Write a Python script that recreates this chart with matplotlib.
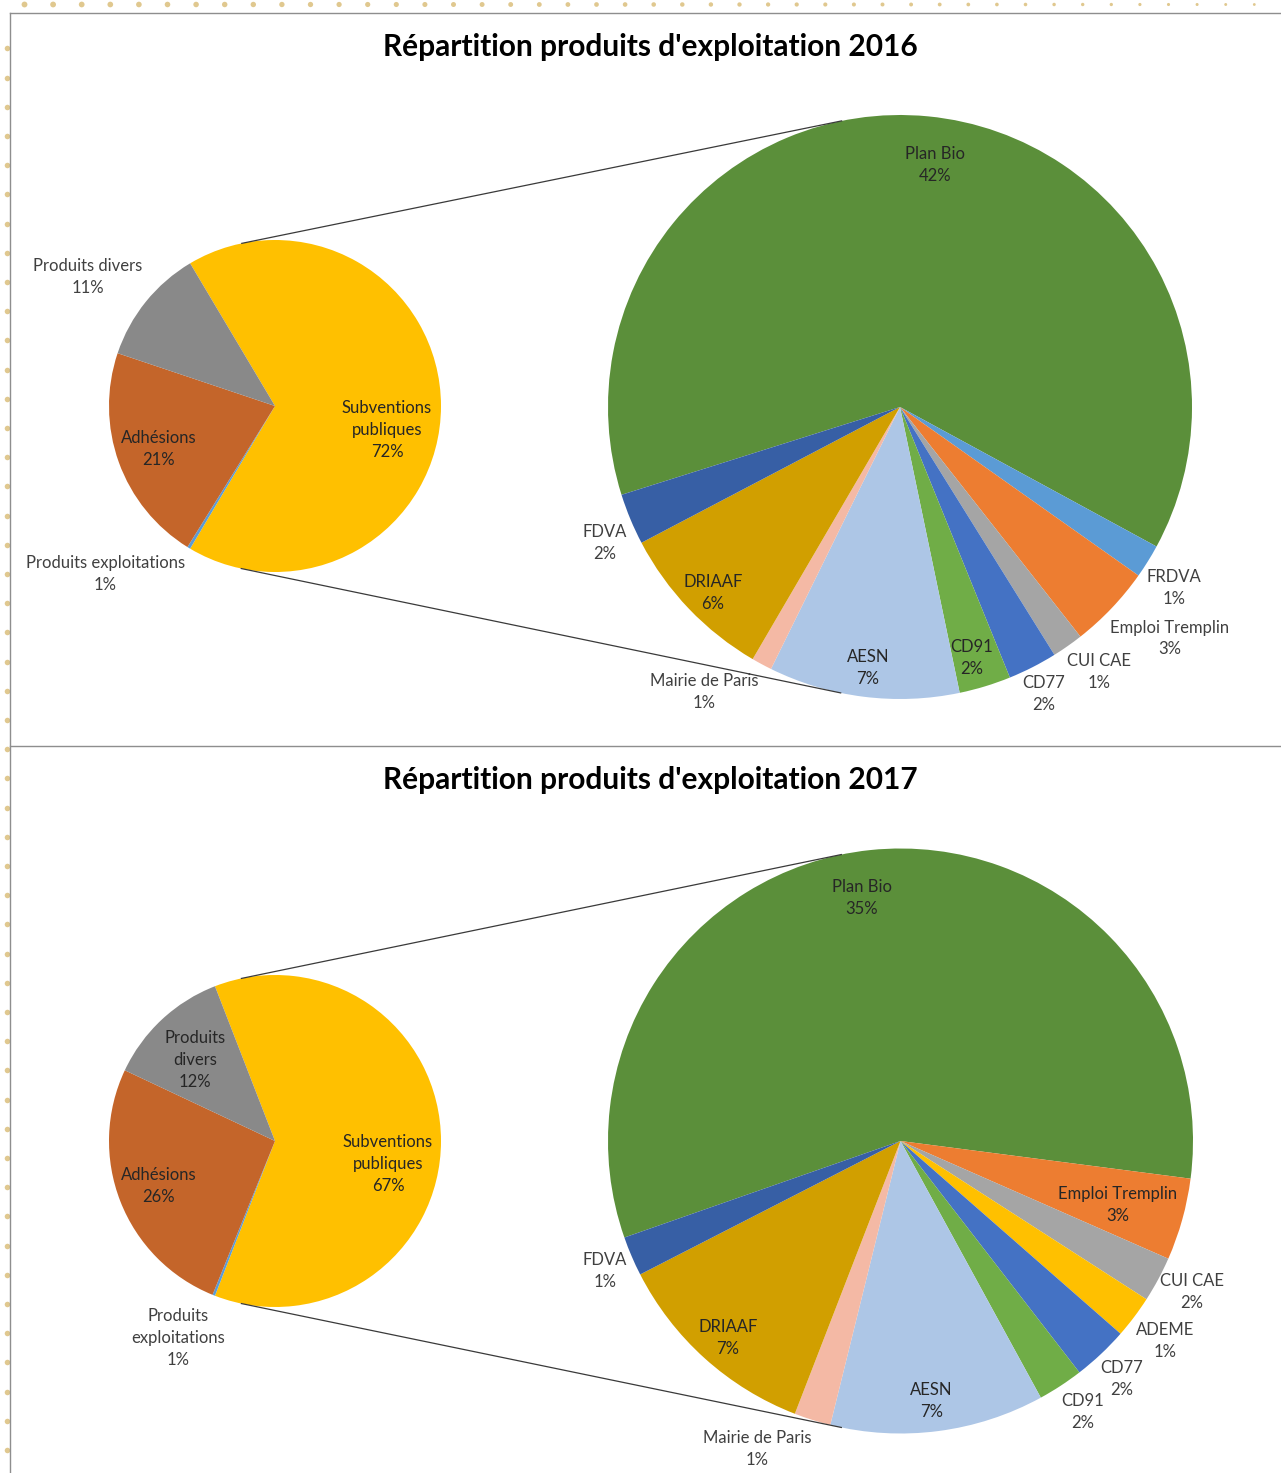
import numpy as np
import matplotlib
matplotlib.use("Agg")
import matplotlib.pyplot as plt

plt.rcParams['font.family'] = ['Lato', 'DejaVu Sans']

# ---------------- data ----------------
titles = ["Répartition produits d'exploitation 2016",
          "Répartition produits d'exploitation 2017"]

main_names = ["Subventions publiques", "Produits exploitations", "Adhésions", "Produits divers"]
main_colors = ["#FFC000", "#5B9BD5", "#C4652A", "#898989"]

# share of total drawn for the non-aggregated slices (percent)
main_other_2016 = [0.3, 21.3, 11.3]
main_other_2017 = [0.25, 25.85, 12.1]
# percentages displayed on the first pie
main_shown_2016 = [72, 1, 21, 11]
main_shown_2017 = [67, 1, 26, 12]

sec_names_2016 = ["Plan Bio", "FRDVA", "Emploi Tremplin", "CUI CAE", "CD77", "CD91",
                  "AESN", "Mairie de Paris", "DRIAAF", "FDVA"]
sec_values_2016 = [42.1, 1.25, 3.09, 1.16, 1.83, 1.92, 7.08, 0.76, 5.96, 1.90]

sec_names_2017 = ["Plan Bio", "Emploi Tremplin", "CUI CAE", "ADEME", "CD77", "CD91",
                  "AESN", "Mairie de Paris", "DRIAAF", "FDVA"]
sec_values_2017 = [35.45, 2.8, 1.55, 1.45, 1.9, 1.55, 7.3, 1.25, 7.15, 1.35]

sec_color_map = {
    "Plan Bio": "#5B8F3A", "FRDVA": "#5B9BD5", "Emploi Tremplin": "#ED7D31",
    "CUI CAE": "#A5A5A5", "ADEME": "#FFC000", "CD77": "#4472C4", "CD91": "#70AD47",
    "AESN": "#ADC6E6", "Mairie de Paris": "#F4B9A5", "DRIAAF": "#D19F00", "FDVA": "#375FA5",
}

# ---------------- layout ----------------
W, H = 1281, 1473
fig = plt.figure(figsize=(W / 100, H / 100), dpi=100)
ax = fig.add_axes([0, 0, 1, 1])

def Y(py):
    return H - py

# label placement: (radial factor, angle nudge in degrees) per slice name
main_lab_2016 = {"Subventions publiques": (0.69, -12), "Produits exploitations": (1.44, -14),
                 "Adhésions": (0.745, 0.4), "Produits divers": (1.37, 4.3)}
main_lab_2017 = {"Subventions publiques": (0.695, -11.5), "Produits exploitations": (1.323, -4.5),
                 "Adhésions": (0.75, -0.1), "Produits divers": (0.686, 1.6)}
sec_lab_2016 = {"Plan Bio": (0.837, -2.7), "FRDVA": (1.125, -1.5), "Emploi Tremplin": (1.217, 2.9),
                "CUI CAE": (1.135, 1.8), "CD77": (1.10, -0.45), "CD91": (0.894, -1.0),
                "AESN": (0.90, 0.2), "Mairie de Paris": (1.183, -6.2), "DRIAAF": (0.903, 1.1),
                "FDVA": (1.112, 2.15)}
sec_lab_2017 = {"Plan Bio": (0.841, 3.1), "Emploi Tremplin": (0.775, -0.75), "CUI CAE": (1.122, 0.9),
                "ADEME": (1.136, -0.1), "CD77": (1.111, -0.3), "CD91": (1.115, 0.7),
                "AESN": (0.895, -0.6), "Mairie de Paris": (1.162, -7.4), "DRIAAF": (0.895, 0.8),
                "FDVA": (1.104, 0.5)}
wrap_2016 = {"Subventions publiques": "Subventions\npubliques"}
wrap_2017 = {"Subventions publiques": "Subventions\npubliques", "Produits divers": "Produits\ndivers",
             "Produits exploitations": "Produits\nexploitations"}

charts = [
    dict(title=titles[0], ty=47, c1=(275, 406), r1=166, c2=(900, 407), r2=292, sec_start=197.5,
         other=main_other_2016, shown=main_shown_2016, sec_names=sec_names_2016,
         sec_vals=sec_values_2016, mlab=main_lab_2016, slab=sec_lab_2016, wrap=wrap_2016),
    dict(title=titles[1], ty=780, c1=(275, 1141), r1=166, c2=(900.5, 1141), r2=292.5, sec_start=199.27,
         other=main_other_2017, shown=main_shown_2017, sec_names=sec_names_2017,
         sec_vals=sec_values_2017, mlab=main_lab_2017, slab=sec_lab_2017, wrap=wrap_2017),
]

FS = 12
IN_COL = "#262626"
OUT_COL = "#404040"

def put_label(cx, cy, r, wedge, f, dth, text):
    mid = np.deg2rad((wedge.theta1 + wedge.theta2) / 2 + dth)
    x = cx + f * r * np.cos(mid)
    y = cy + f * r * np.sin(mid)
    ax.text(x, y, text, ha='center', va='center', fontsize=FS, linespacing=1.45,
            color=IN_COL if f < 1 else OUT_COL, zorder=5)

for ch in charts:
    cx1, cy1 = ch["c1"][0], Y(ch["c1"][1])
    cx2, cy2 = ch["c2"][0], Y(ch["c2"][1])
    r1, r2 = ch["r1"], ch["r2"]
    sub_total = sum(ch["sec_vals"])
    main_vals = [sub_total] + ch["other"]
    total = sum(main_vals)
    start1 = 180.0 * sub_total / total

    w1, _ = ax.pie(main_vals, center=(cx1, cy1), radius=r1, startangle=start1,
                   counterclock=False, colors=main_colors,
                   wedgeprops=dict(linewidth=0), normalize=True)
    sec_cols = [sec_color_map[n] for n in ch["sec_names"]]
    w2, _ = ax.pie(ch["sec_vals"], center=(cx2, cy2), radius=r2, startangle=ch["sec_start"],
                   counterclock=False, colors=sec_cols,
                   wedgeprops=dict(linewidth=0), normalize=True)

    for wdg, name, pct in zip(w1, main_names, ch["shown"]):
        f, dth = ch["mlab"][name]
        txt = ch["wrap"].get(name, name) + "\n" + f"{pct}%"
        put_label(cx1, cy1, r1, wdg, f, dth, txt)
    for wdg, name, v in zip(w2, ch["sec_names"], ch["sec_vals"]):
        f, dth = ch["slab"][name]
        txt = name + "\n" + f"{round(v)}%"
        put_label(cx2, cy2, r2, wdg, f, dth, txt)

    # external common tangents (connector lines)
    dx, dy = cx2 - cx1, cy2 - cy1
    d = np.hypot(dx, dy)
    base = np.arctan2(dy, dx)
    phi = np.arccos((r1 - r2) / d)
    for s in (1, -1):
        a = base + s * phi
        p1 = (cx1 + r1 * np.cos(a), cy1 + r1 * np.sin(a))
        p2 = (cx2 + r2 * np.cos(a), cy2 + r2 * np.sin(a))
        ax.plot([p1[0], p2[0]], [p1[1], p2[1]], color="#3A3A3A", lw=0.9, zorder=1)

    ax.text(650, Y(ch["ty"]), ch["title"], ha='center', va='center', fontsize=21.5,
            fontweight='bold', color='black')

# frame lines
ax.plot([10, W], [Y(12.7), Y(12.7)], color="#8E8E8E", lw=1.0)
ax.plot([9.5, 9.5], [Y(12.7), 0], color="#8E8E8E", lw=1.0)
ax.plot([10, W], [Y(746), Y(746)], color="#8E8E8E", lw=1.0)

# page decoration dots
top_x = np.arange(24.5, W, 28.6)
top_s = np.clip(18 - top_x / 90, 3, 18)
ax.scatter(top_x, np.full_like(top_x, Y(4.5)), s=top_s, color="#E0C88F", linewidths=0, zorder=0)
left_y = np.arange(48.3, H, 29.2)
ax.scatter(np.full_like(left_y, 6.7), Y(left_y), s=16, color="#E0C88F", linewidths=0, zorder=0)

ax.set_xlim(0, W)
ax.set_ylim(0, H)
ax.set_aspect('auto')
ax.axis('off')
fig.savefig("out.png", dpi=100)
